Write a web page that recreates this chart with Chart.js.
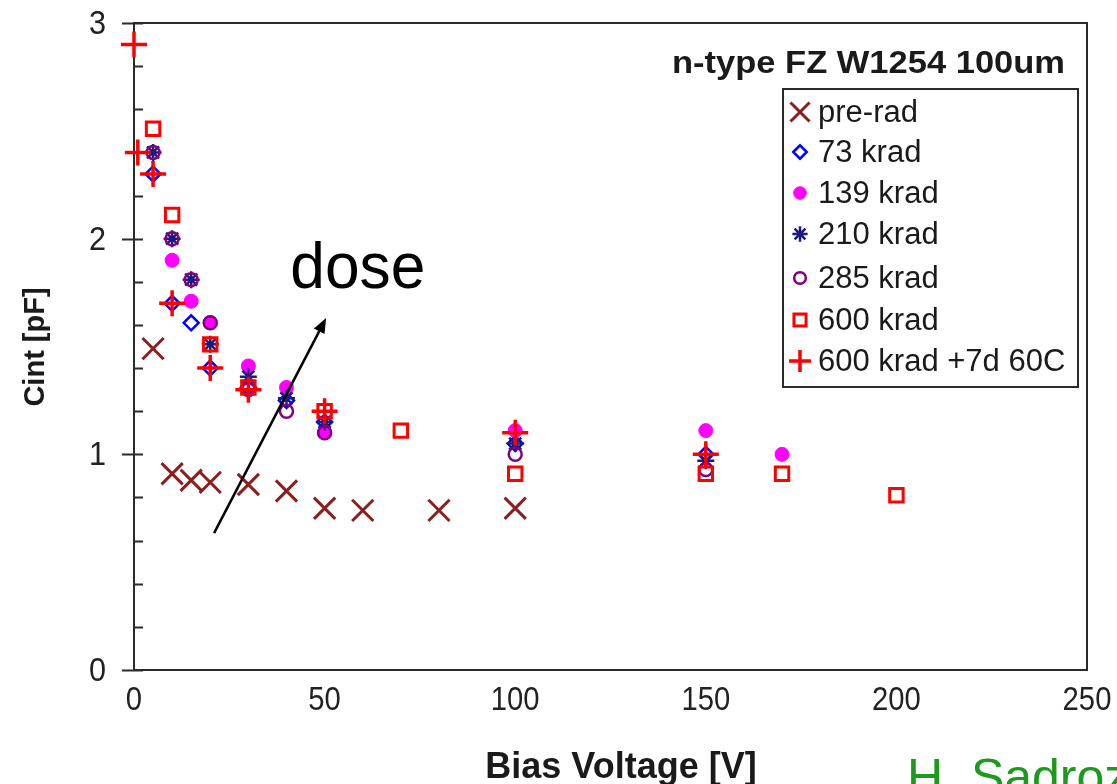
<!DOCTYPE html>
<html>
<head>
<meta charset="utf-8">
<title>Cint vs Bias Voltage</title>
<script src="https://cdn.jsdelivr.net/npm/chart.js@4/dist/chart.umd.min.js"></script>
<style>
  html, body { margin: 0; padding: 0; background: #fff; }
  canvas { display: block; }
</style>
</head>
<body>
<canvas id="cint" width="1117" height="784"></canvas>
<script>
// measured interstrip capacitance, per dose
const seriesLabels = ['pre-rad', '73 krad', '139 krad', '210 krad', '285 krad', '600 krad', '600 krad +7d 60C'];

const preRadV   = [5, 10, 15, 20, 30, 40, 50, 60, 80, 100];
const preRadC   = [1.49, 0.91, 0.88, 0.87, 0.86, 0.83, 0.75, 0.74, 0.74, 0.75];

const k73V      = [5, 10, 15, 20, 30, 40, 50, 100, 150];
const k73C      = [2.30, 1.70, 1.61, 1.40, 1.31, 1.25, 1.15, 1.05, 1.00];

const k139V     = [10, 15, 20, 30, 40, 50, 100, 150, 170];
const k139C     = [1.90, 1.71, 1.61, 1.41, 1.31, 1.10, 1.11, 1.11, 1.00];

const k210V     = [5, 10, 15, 20, 30, 40, 50, 100, 150];
const k210C     = [2.40, 2.00, 1.81, 1.51, 1.36, 1.26, 1.15, 1.05, 0.97];

const k285V     = [5, 10, 15, 20, 30, 40, 50, 100, 150];
const k285C     = [2.40, 2.00, 1.81, 1.61, 1.30, 1.20, 1.10, 1.00, 0.93];

const k600V     = [5, 10, 20, 30, 50, 70, 100, 150, 170, 200];
const k600C     = [2.51, 2.11, 1.51, 1.31, 1.20, 1.11, 0.91, 0.91, 0.91, 0.81];

const annealV   = [0, 1, 5, 10, 20, 30, 50, 100, 150];
const annealC   = [2.90, 2.40, 2.30, 1.70, 1.40, 1.30, 1.20, 1.10, 1.00];

const xTicks = [0, 50, 100, 150, 200, 250];
const yTicks = [0, 1, 2, 3];

const pairs = (xs, ys) => xs.map((x, i) => ({ x: x, y: ys[i] }));

const styles = [
  { pointStyle: 'crossRot', color: '#8b1f1f', radius: 15, width: 3, fill: false },
  { pointStyle: 'rectRot',  color: '#0000ff', radius: 7.5, width: 2.5, fill: false },
  { pointStyle: 'circle',   color: '#ff00ff', radius: 7, width: 1, fill: true },
  { pointStyle: 'star',     color: '#1a1a80', radius: 8.5, width: 2.5, fill: false },
  { pointStyle: 'circle',   color: '#800080', radius: 6.5, width: 2.5, fill: false },
  { pointStyle: 'rect',     color: '#ff0000', radius: 9.5, width: 3, fill: false },
  { pointStyle: 'cross',    color: '#ff0000', radius: 13, width: 3.5, fill: false }
];

const seriesData = [
  pairs(preRadV, preRadC),
  pairs(k73V, k73C),
  pairs(k139V, k139C),
  pairs(k210V, k210C),
  pairs(k285V, k285C),
  pairs(k600V, k600C),
  pairs(annealV, annealC)
];

const datasets = seriesData.map((d, i) => ({
  label: seriesLabels[i],
  data: d,
  order: 6 - i,
  clip: false,
  pointStyle: styles[i].pointStyle,
  pointRadius: styles[i].radius,
  pointBorderWidth: styles[i].width,
  borderColor: styles[i].color,
  backgroundColor: styles[i].fill ? styles[i].color : 'rgba(0,0,0,0)',
  showLine: false
}));

const font = 'Arial, "Liberation Sans", sans-serif';

// text squeezed or stretched to a given width
function fitText(ctx, txt, x, y, w) {
  const m = ctx.measureText(txt).width;
  ctx.save();
  ctx.translate(x, y);
  ctx.scale(w / m, 1);
  ctx.fillText(txt, 0, 0);
  ctx.restore();
}

// narrow tick numbers, x is the anchor given by textAlign
function narrowText(ctx, txt, x, y, k) {
  ctx.save();
  ctx.translate(x, y);
  ctx.scale(k, 1);
  ctx.fillText(txt, 0, 0);
  ctx.restore();
}

const frame = {
  id: 'frame',
  beforeDraw(chart) {
    const ctx = chart.ctx;
    ctx.save();
    ctx.fillStyle = '#fff';
    ctx.fillRect(0, 0, chart.width, chart.height);
    ctx.restore();
  },
  beforeDatasetsDraw(chart) {
    const { ctx, chartArea: a, scales: { x, y } } = chart;
    ctx.save();
    ctx.strokeStyle = '#2a2a2a';
    ctx.lineWidth = 2;
    ctx.strokeRect(a.left, a.top, a.right - a.left, a.bottom - a.top);

    // y ticks: small inside every 0.2, long crossing ticks on integers
    ctx.fillStyle = '#222';
    ctx.font = '34px ' + font;
    y.ticks.forEach(t => {
      const py = Math.round(y.getPixelForValue(t.value)) + 0.5;
      const major = yTicks.some(v => Math.abs(v - t.value) < 1e-6);
      ctx.beginPath();
      ctx.moveTo(major ? a.left - 12 : a.left, py);
      ctx.lineTo(a.left + 9, py);
      ctx.stroke();
      if (major) {
        ctx.textAlign = 'right';
        ctx.textBaseline = 'middle';
        narrowText(ctx, String(Math.round(t.value)), a.left - 28, py + 1, 0.9);
      }
    });

    x.ticks.forEach(t => {
      ctx.textAlign = 'center';
      ctx.textBaseline = 'middle';
      narrowText(ctx, String(t.value), x.getPixelForValue(t.value), a.bottom + 31, 0.86);
    });
    ctx.restore();
  },
  afterDatasetsDraw(chart) {
    const { ctx, scales: { x, y } } = chart;
    ctx.save();

    // arrow pointing towards higher dose
    const x0 = x.getPixelForValue(21), y0 = y.getPixelForValue(0.635);
    const x1 = x.getPixelForValue(50.4), y1 = y.getPixelForValue(1.632);
    const ang = Math.atan2(y1 - y0, x1 - x0);
    ctx.strokeStyle = '#000';
    ctx.fillStyle = '#000';
    ctx.lineWidth = 2.5;
    ctx.beginPath();
    ctx.moveTo(x0, y0);
    ctx.lineTo(x1 - 8 * Math.cos(ang), y1 - 8 * Math.sin(ang));
    ctx.stroke();
    ctx.beginPath();
    ctx.moveTo(x1, y1);
    ctx.lineTo(x1 - 15 * Math.cos(ang) + 6 * Math.sin(ang), y1 - 15 * Math.sin(ang) - 6 * Math.cos(ang));
    ctx.lineTo(x1 - 15 * Math.cos(ang) - 6 * Math.sin(ang), y1 - 15 * Math.sin(ang) + 6 * Math.cos(ang));
    ctx.closePath();
    ctx.fill();

    ctx.font = '64px ' + font;
    ctx.textBaseline = 'alphabetic';
    ctx.textAlign = 'left';
    fitText(ctx, 'dose', x.getPixelForValue(41), y.getPixelForValue(1.77), 135);

    // sample label
    ctx.fillStyle = '#1a1a1a';
    ctx.font = 'bold 32px ' + font;
    fitText(ctx, 'n-type FZ W1254 100um', 672, 73, 393);

    // legend
    const lx = 783, ly = 89, lw = 295, lh = 298;
    ctx.lineWidth = 2;
    ctx.strokeStyle = '#2a2a2a';
    ctx.strokeRect(lx, ly, lw, lh);
    const rows = [112, 152, 193, 234, 278, 320, 361];
    ctx.font = '31px ' + font;
    ctx.textBaseline = 'middle';
    chart.data.datasets.forEach((ds, i) => {
      ctx.save();
      ctx.strokeStyle = ds.borderColor;
      ctx.fillStyle = ds.backgroundColor;
      ctx.lineWidth = ds.pointBorderWidth;
      Chart.helpers.drawPoint(ctx, {
        pointStyle: ds.pointStyle,
        radius: ds.pointStyle === 'cross' ? 11 : ds.pointRadius * 0.9,
        borderWidth: ds.pointBorderWidth,
        rotation: 0
      }, 800, rows[i]);
      ctx.restore();
      ctx.fillStyle = '#1a1a1a';
      ctx.fillText(ds.label, 818, rows[i] + 1);
    });

    // axis titles
    ctx.fillStyle = '#1a1a1a';
    ctx.font = 'bold 29px ' + font;
    ctx.textAlign = 'center';
    ctx.save();
    ctx.translate(36, 347);
    ctx.rotate(-Math.PI / 2);
    ctx.fillText('Cint [pF]', 0, 0);
    ctx.restore();
    ctx.font = 'bold 36px ' + font;
    ctx.textBaseline = 'alphabetic';
    ctx.fillText('Bias Voltage [V]', 621, 778);

    ctx.fillStyle = '#1c9a1c';
    ctx.font = '50px ' + font;
    ctx.textAlign = 'left';
    ctx.fillText('H. Sadrozinski', 907, 794);
    ctx.restore();
  }
};

new Chart(document.getElementById('cint'), {
  type: 'scatter',
  data: { datasets: datasets },
  options: {
    responsive: false,
    animation: false,
    layout: { padding: { top: 23, right: 30, left: 0, bottom: 0 } },
    plugins: { legend: { display: false }, tooltip: { enabled: false } },
    scales: {
      x: {
        type: 'linear',
        min: xTicks[0],
        max: xTicks[xTicks.length - 1],
        afterBuildTicks: s => { s.ticks = xTicks.map(v => ({ value: v })); },
        ticks: { display: false },
        grid: { display: false, drawTicks: false },
        border: { display: false },
        afterFit: s => { s.height = 114; s.paddingLeft = 0; s.paddingRight = 0; }
      },
      y: {
        type: 'linear',
        min: 0,
        max: 3,
        ticks: { display: false, stepSize: 0.2, autoSkip: false },
        grid: { display: false, drawTicks: false },
        border: { display: false },
        afterFit: s => { s.width = 134; s.paddingTop = 0; s.paddingBottom = 0; }
      }
    }
  },
  plugins: [frame]
});
</script>
</body>
</html>
